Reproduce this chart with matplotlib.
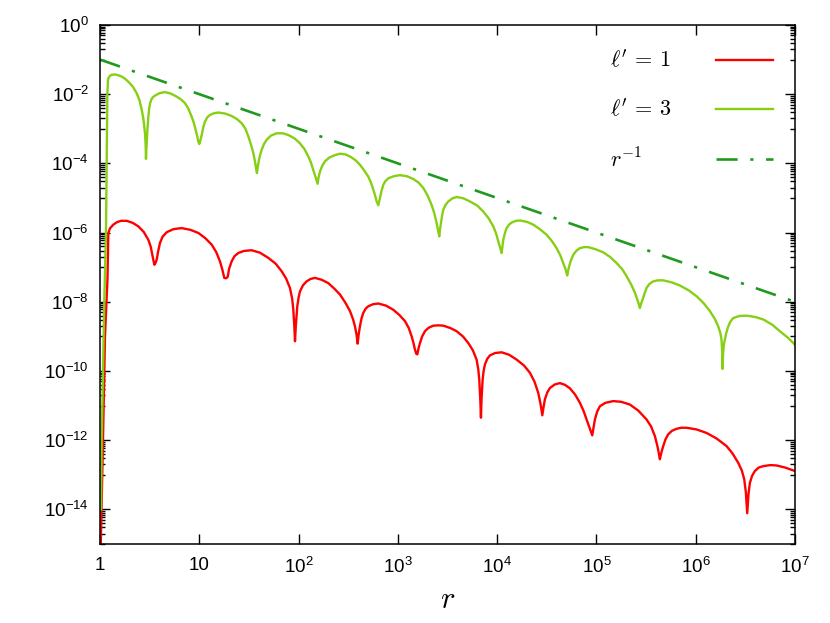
import matplotlib
matplotlib.use("Agg")
import matplotlib.pyplot as plt
import numpy as np
from matplotlib.ticker import FixedLocator, NullLocator, NullFormatter

# values, as (log10 r, log10 amplitude) pairs
# l' = 1 (red)
l1_points = [
    (0.0, -16.0), (0.03, -12.0), (0.05, -9.0), (0.075, -7.36), (0.082, -6.2),
    (0.084, -6.01), (0.10, -5.88), (0.134, -5.77), (0.17, -5.70), (0.21, -5.66), (0.269, -5.66),
    (0.33, -5.72), (0.386, -5.82), (0.44, -5.98), (0.487, -6.21), (0.510, -6.40), (0.527, -6.64),
    (0.540, -6.82), (0.547, -6.93),
    (0.556, -6.90), (0.571, -6.78), (0.585, -6.55), (0.604, -6.30), (0.63, -6.12), (0.671, -5.99),
    (0.74, -5.90), (0.822, -5.87), (0.91, -5.92), (0.990, -6.01), (1.06, -6.16), (1.125, -6.35),
    (1.17, -6.56), (1.208, -6.83), (1.232, -7.07), (1.252, -7.31), (1.270, -7.32), (1.286, -7.28),
    (1.300, -7.05), (1.326, -6.83), (1.355, -6.68), (1.393, -6.59), (1.45, -6.53), (1.527, -6.51),
    (1.61, -6.58), (1.695, -6.73), (1.77, -6.90), (1.830, -7.12), (1.875, -7.33), (1.913, -7.60),
    (1.935, -7.90), (1.947, -8.23), (1.957, -8.70), (1.964, -9.14),
    (1.972, -8.70), (1.987, -8.13), (2.000, -7.88), (2.014, -7.70), (2.045, -7.52), (2.081, -7.41),
    (2.12, -7.34), (2.165, -7.31), (2.23, -7.36), (2.299, -7.46), (2.36, -7.62), (2.417, -7.79),
    (2.47, -8.02), (2.518, -8.27), (2.548, -8.50), (2.568, -8.71), (2.584, -8.95), (2.595, -9.21),
    (2.605, -8.95), (2.618, -8.71), (2.634, -8.48), (2.652, -8.32), (2.675, -8.20), (2.702, -8.13),
    (2.75, -8.07), (2.803, -8.05), (2.88, -8.11), (2.954, -8.23), (3.015, -8.38), (3.072, -8.56),
    (3.11, -8.76), (3.139, -9.00), (3.158, -9.20), (3.172, -9.38), (3.185, -9.50), (3.196, -9.52),
    (3.208, -9.35), (3.223, -9.19), (3.245, -9.00), (3.273, -8.85), (3.31, -8.75), (3.357, -8.69),
    (3.41, -8.68), (3.458, -8.69), (3.53, -8.76), (3.592, -8.85), (3.655, -9.00), (3.709, -9.19),
    (3.755, -9.40), (3.793, -9.67), (3.810, -9.95), (3.820, -10.25), (3.830, -10.8), (3.837, -11.35),
    (3.843, -10.8), (3.854, -10.25), (3.864, -10.0), (3.877, -9.81), (3.90, -9.65), (3.927, -9.55),
    (3.98, -9.48), (4.045, -9.46), (4.12, -9.53), (4.196, -9.67), (4.27, -9.84), (4.330, -10.05),
    (4.375, -10.30), (4.414, -10.63), (4.437, -10.95), (4.455, -11.28),
    (4.467, -11.05), (4.481, -10.82), (4.505, -10.62), (4.532, -10.49), (4.58, -10.39), (4.632, -10.35),
    (4.683, -10.40), (4.733, -10.50), (4.785, -10.68), (4.834, -10.92), (4.870, -11.15), (4.901, -11.40),
    (4.930, -11.63), (4.958, -11.86),
    (4.970, -11.65), (4.985, -11.40), (5.008, -11.17), (5.035, -11.02), (5.09, -10.92), (5.169, -10.87),
    (5.25, -10.89), (5.337, -10.97), (5.42, -11.14), (5.505, -11.40), (5.55, -11.60), (5.589, -11.88),
    (5.615, -12.18), (5.630, -12.40), (5.639, -12.55),
    (5.655, -12.35), (5.673, -12.17), (5.695, -11.98), (5.723, -11.83), (5.76, -11.73), (5.807, -11.67),
    (5.855, -11.64), (5.908, -11.64), (6.01, -11.69), (6.109, -11.79), (6.21, -11.95), (6.311, -12.17),
    (6.37, -12.38), (6.428, -12.65), (6.465, -12.88), (6.489, -13.13), (6.505, -13.50), (6.519, -14.11),
    (6.532, -13.55), (6.546, -13.23), (6.568, -13.03), (6.596, -12.89), (6.635, -12.79), (6.680, -12.75),
    (6.75, -12.72), (6.814, -12.73), (6.90, -12.79), (6.999, -12.89),
]

# l' = 3 (light green)
l3_points = [
    (0.01, -14.0), (0.017, -12.0), (0.043, -8.0), (0.06, -6.0), (0.074, -2.0), (0.08, -1.6),
    (0.084, -1.54), (0.10, -1.47), (0.118, -1.44), (0.14, -1.43), (0.168, -1.44), (0.19, -1.46),
    (0.218, -1.49), (0.25, -1.55), (0.285, -1.64), (0.33, -1.78), (0.369, -1.97), (0.398, -2.18),
    (0.420, -2.45), (0.436, -2.70), (0.446, -2.93), (0.455, -3.20), (0.460, -3.51), (0.463, -3.87),
    (0.466, -3.62), (0.470, -3.42), (0.478, -3.00), (0.487, -2.65), (0.495, -2.42), (0.504, -2.26),
    (0.52, -2.14), (0.535, -2.08), (0.554, -2.04), (0.60, -1.97), (0.655, -1.94), (0.71, -1.98),
    (0.772, -2.07), (0.815, -2.15), (0.856, -2.26), (0.89, -2.42), (0.923, -2.65), (0.945, -2.83),
    (0.963, -3.03), (0.978, -3.20), (0.990, -3.37), (1.000, -3.44),
    (1.010, -3.35), (1.024, -3.18), (1.040, -2.96), (1.057, -2.79), (1.08, -2.67), (1.108, -2.60),
    (1.15, -2.55), (1.192, -2.53), (1.26, -2.56), (1.326, -2.63), (1.38, -2.72), (1.427, -2.84),
    (1.465, -3.00), (1.494, -3.22), (1.52, -3.45), (1.544, -3.70), (1.560, -3.93), (1.572, -4.15),
    (1.581, -4.28),
    (1.590, -4.08), (1.601, -3.90), (1.614, -3.74), (1.628, -3.61), (1.650, -3.45), (1.678, -3.32),
    (1.72, -3.20), (1.779, -3.13), (1.84, -3.13), (1.897, -3.18), (1.96, -3.28), (2.014, -3.42),
    (2.06, -3.59), (2.098, -3.80), (2.125, -3.98), (2.148, -4.19), (2.172, -4.40), (2.192, -4.59),
    (2.200, -4.42), (2.216, -4.23), (2.240, -4.06), (2.266, -3.94), (2.31, -3.83), (2.367, -3.76),
    (2.417, -3.72), (2.47, -3.74), (2.518, -3.80), (2.57, -3.90), (2.618, -4.04), (2.66, -4.20),
    (2.702, -4.38), (2.730, -4.56), (2.753, -4.76), (2.772, -4.94), (2.786, -5.10), (2.803, -5.21),
    (2.812, -5.10), (2.820, -5.00), (2.835, -4.80), (2.853, -4.62), (2.875, -4.51), (2.904, -4.43),
    (2.96, -4.37), (3.021, -4.34), (3.09, -4.37), (3.155, -4.45), (3.21, -4.56), (3.256, -4.71),
    (3.30, -4.93), (3.340, -5.20), (3.368, -5.45), (3.390, -5.72), (3.405, -5.93), (3.417, -6.11),
    (3.425, -5.90), (3.434, -5.72), (3.445, -5.52), (3.458, -5.34), (3.48, -5.20), (3.508, -5.10),
    (3.55, -5.01), (3.592, -4.97), (3.66, -5.01), (3.726, -5.10), (3.80, -5.22), (3.860, -5.39),
    (3.915, -5.59), (3.961, -5.82), (3.990, -6.03), (4.011, -6.25), (4.030, -6.43), (4.045, -6.59),
    (4.053, -6.40), (4.062, -6.21), (4.078, -6.02), (4.095, -5.87), (4.12, -5.77), (4.146, -5.71),
    (4.19, -5.66), (4.230, -5.65), (4.30, -5.69), (4.364, -5.77), (4.43, -5.90), (4.498, -6.06),
    (4.55, -6.24), (4.599, -6.45), (4.635, -6.65), (4.666, -6.88), (4.688, -7.05), (4.706, -7.24),
    (4.715, -7.10), (4.726, -6.97), (4.745, -6.79), (4.767, -6.64), (4.80, -6.52), (4.834, -6.45),
    (4.875, -6.42), (4.918, -6.42), (4.99, -6.48), (5.069, -6.57), (5.14, -6.71), (5.203, -6.88),
    (5.26, -7.06), (5.304, -7.26), (5.35, -7.50), (5.388, -7.74), (5.410, -7.92), (5.428, -8.08),
    (5.438, -8.18),
    (5.450, -8.05), (5.465, -7.94), (5.485, -7.76), (5.505, -7.60), (5.535, -7.48), (5.572, -7.41),
    (5.62, -7.38), (5.673, -7.38), (5.76, -7.44), (5.841, -7.53), (5.93, -7.67), (6.009, -7.84),
    (6.08, -8.04), (6.143, -8.27), (6.19, -8.48), (6.227, -8.71), (6.248, -8.90), (6.260, -9.09),
    (6.268, -9.50), (6.271, -9.94),
    (6.276, -9.50), (6.283, -9.25), (6.294, -9.09), (6.310, -8.88), (6.328, -8.71), (6.350, -8.57),
    (6.378, -8.47), (6.44, -8.41), (6.512, -8.40), (6.60, -8.44), (6.680, -8.51), (6.77, -8.66),
    (6.848, -8.85), (6.93, -9.04), (7.0, -9.24),
]

# r^-1 guide line
guide_r = [1.0, 1e7]
guide_y = [1e-1, 1e-8]

legend_labels = [r"$\ell'\,=\,1$", r"$\ell'\,=\,3$", r"$r^{-1}$"]
x_ticks = [1, 10, 1e2, 1e3, 1e4, 1e5, 1e6, 1e7]
x_tick_labels = ["1", "10", "$10^{2}$", "$10^{3}$", "$10^{4}$", "$10^{5}$", "$10^{6}$", "$10^{7}$"]
y_exponents = [0, -2, -4, -6, -8, -10, -12, -14]

plt.rcParams["font.family"] = ["Liberation Sans", "DejaVu Sans"]
plt.rcParams["mathtext.fontset"] = "custom"
plt.rcParams["mathtext.rm"] = "Liberation Sans"
plt.rcParams["mathtext.it"] = "Liberation Sans:italic"

l1 = 10 ** np.array(l1_points).T
l3 = 10 ** np.array(l3_points).T

fig = plt.figure(figsize=(8.3, 6.23), dpi=100)
ax = fig.add_axes([0.1205, 0.1268, 0.8373, 0.8331])

red_line, = ax.plot(l1[0], l1[1], color="#ff0000", lw=1.7,
                    solid_joinstyle="round")
green_line, = ax.plot(l3[0], l3[1], color="#86cf12", lw=1.7,
                      solid_joinstyle="round")
guide_line, = ax.plot(guide_r, guide_y, color="#1f9a1f", lw=1.9,
                      dashes=(8, 4.8, 1.2, 4.8))

ax.set_xscale("log")
ax.set_yscale("log")
ax.set_xlim(1, 1e7)
ax.set_ylim(1e-15, 1)

ax.xaxis.set_major_locator(FixedLocator(x_ticks))
ax.set_xticklabels(x_tick_labels)
ax.xaxis.set_minor_locator(NullLocator())

y_major = [10.0 ** e for e in y_exponents]
ax.yaxis.set_major_locator(FixedLocator(y_major))
ax.set_yticklabels([f"$10^{{{e}}}$" for e in y_exponents])
y_minor = [n * 10.0 ** k for k in range(-15, 0, 2) for n in range(1, 10)]
ax.yaxis.set_minor_locator(FixedLocator(y_minor))
ax.yaxis.set_minor_formatter(NullFormatter())

ax.tick_params(which="both", direction="in", top=True, right=True, width=1.0,
               colors="black", labelsize=13.5)
ax.tick_params(axis="x", which="major", length=7, pad=9)
ax.tick_params(axis="y", which="major", length=7, pad=8)
ax.tick_params(which="minor", length=3.5)
for sp in ax.spines.values():
    sp.set_linewidth(1.1)

ax.set_xlabel("$r$", fontsize=22, math_fontfamily="cm", labelpad=6)

leg = ax.legend([red_line, green_line, guide_line], legend_labels,
                loc="upper right", bbox_to_anchor=(0.968, 0.951), frameon=False,
                markerfirst=False, fontsize=16, handlelength=2.55, handletextpad=2.0,
                labelspacing=1.2, borderpad=0.0, borderaxespad=0.0)
for t in leg.get_texts():
    t.set_math_fontfamily("cm")

# gnuplot-style key: labels left-aligned, samples right-aligned
renderer = fig.canvas.get_renderer()
for col in leg._legend_handle_box.get_children():
    rows = col.get_children()
    col.width = max(row.get_bbox(renderer).width for row in rows)
    for row in rows:
        row.mode = "expand"

fig.savefig("out.png", dpi=100)
